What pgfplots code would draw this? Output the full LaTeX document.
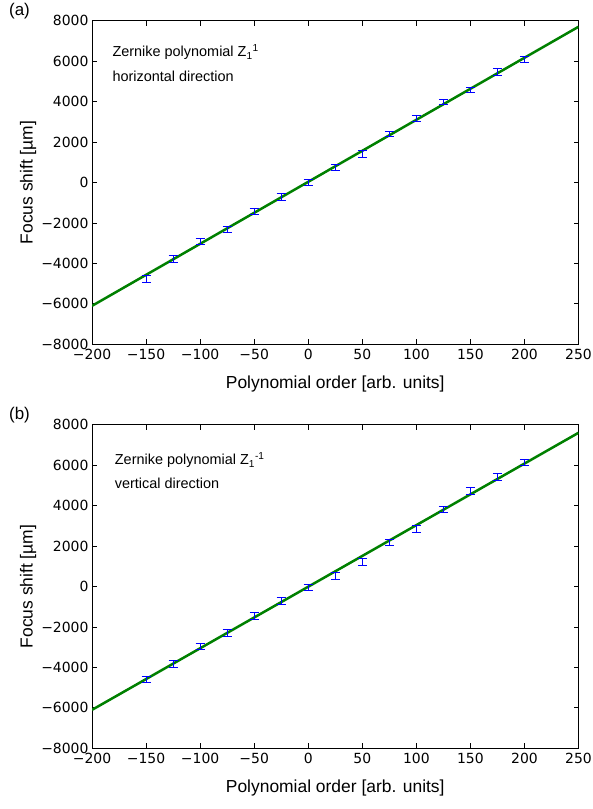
\documentclass[border=0pt]{standalone}
\usepackage{pgfplots}
\pgfplotsset{compat=1.18}
\usepackage{fontspec}
\setmainfont{Liberation Sans}
\newfontfamily\dejavu{DejaVu Sans}
\definecolor{mplgreen}{rgb}{0,0.5,0}
\pgfplotstableread{
x y e
-150 -4760 160
-125 -3783 150
-100 -2911 164
-75 -2335 148
-50 -1443 156
-25 -719 156
0 5 156
25 749 156
50 1409 190
75 2394 123
100 3182 148
125 3970 130
150 4561 115
175 5478 164
200 6089 148
}\dataA
\pgfplotstableread{
x y e
-150 -4576 148
-125 -3820 164
-100 -2975 156
-75 -2303 156
-50 -1458 164
-25 -704 164
0 -35 148
25 530 175
50 1224 172
75 2175 172
100 2863 172
125 3807 131
150 4708 164
175 5406 172
200 6119 148
}\dataB
\begin{document}
\begin{tikzpicture}
\path[use as bounding box] (0bp,0bp) rectangle (593bp,809bp);
\pgfplotsset{
  panel/.style={
    scale only axis, width=486.5bp, height=323.6bp, anchor=south west,
    xmin=-200, xmax=250, ymin=-8000, ymax=8000,
    xtick={-200,-150,...,250}, ytick={-8000,-6000,...,8000},
    xticklabels={−200,−150,−100,−50,0,50,100,150,200,250},
    yticklabels={−8000,−6000,−4000,−2000,0,2000,4000,6000,8000},
    tick label style={font=\fontsize{14}{16}\dejavu},
    xticklabel style={anchor=base, yshift=-15.5bp},
    tick align=inside, major tick length=5bp,
    axis line style={line width=1bp},
    tick style={black, line width=0.8bp},
    xlabel={Polynomial order [arb. units]},
    ylabel={Focus shift [µm]},
    label style={font=\fontsize{17.5}{20}\selectfont},
    xlabel style={at={(axis description cs:0.5,-0.1236)}, anchor=center},
    ylabel style={at={(axis description cs:-0.1315,0.5)}, anchor=center},
    scaled ticks=false,
  },
  ebar/.style={draw=none, mark=none,
    error bars/.cd, y dir=both, y explicit, error mark=-,
    error bar style={draw=blue, line width=1bp},
    error mark options={draw=blue, line width=1bp, mark size=4.5bp, rotate=90}},
}
\begin{axis}[panel, at={(92bp,464.7bp)}]
\addplot[mplgreen, line width=2.5bp] coordinates {(-200,-6100) (250,7700)};
\addplot[ebar] table[x=x, y=y, y error=e] {\dataA};
\end{axis}
\begin{axis}[panel, at={(92bp,60.7bp)}]
\addplot[mplgreen, line width=2.5bp] coordinates {(-200,-6100) (250,7600)};
\addplot[ebar] table[x=x, y=y, y error=e] {\dataB};
\end{axis}
\node[font=\fontsize{17}{20}\selectfont] at (19.5bp,798bp) {(a)};
\node[font=\fontsize{17}{20}\selectfont] at (19.5bp,394bp) {(b)};
\node[anchor=base west, font=\fontsize{14.5}{17}\selectfont, inner sep=0pt] at (112.3bp,752bp) {Zernike polynomial Z\textsubscript{1}\textsuperscript{1}};
\node[anchor=base west, font=\fontsize{14.5}{17}\selectfont, inner sep=0pt] at (112.3bp,727bp) {horizontal direction};
\node[anchor=base west, font=\fontsize{14.5}{17}\selectfont, inner sep=0pt] at (114.7bp,344bp) {Zernike polynomial Z\textsubscript{1}\textsuperscript{-1}};
\node[anchor=base west, font=\fontsize{14.5}{17}\selectfont, inner sep=0pt] at (114.7bp,320.3bp) {vertical direction};
\end{tikzpicture}
\end{document}
